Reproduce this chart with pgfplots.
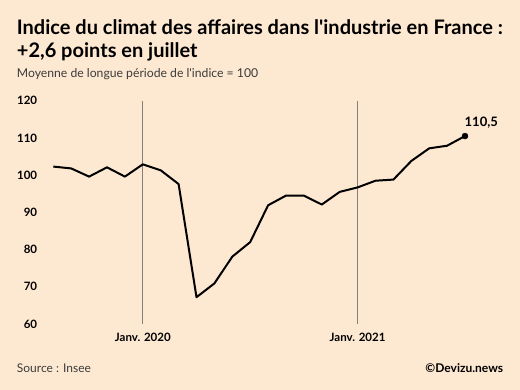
\documentclass[border=0pt]{standalone}
\usepackage{fontspec}
\setmainfont{Lato}
\usepackage{pgfplots}
\pgfplotsset{compat=1.18}
\definecolor{bg}{RGB}{253,232,209}
\definecolor{grayline}{RGB}{135,128,120}
\definecolor{subtxt}{RGB}{60,60,60}
\pgfplotstableread{
x y
0 102.3
1 101.8
2 99.6
3 102.1
4 99.6
5 102.9
6 101.3
7 97.6
8 67.2
9 70.9
10 78.1
11 82.0
12 91.9
13 94.5
14 94.5
15 92.1
16 95.5
17 96.7
18 98.5
19 98.8
20 103.8
21 107.2
22 107.9
23 110.5
}\data
\begin{document}
\begin{tikzpicture}[x=1pt,y=1pt]
\fill[bg] (0,0) rectangle (520,390);
\node[anchor=base west, inner sep=0] at (16.7,355.7) {\fontsize{20}{23}\selectfont\bfseries Indice du climat des affaires dans l\textquotesingle industrie en France :};
\node[anchor=base west, inner sep=0] at (16.7,332.3) {\fontsize{20}{23}\selectfont\bfseries +2,6 points en juillet};
\node[anchor=base west, inner sep=0, text=subtxt] at (16.7,312.7) {\fontsize{12.2}{14}\selectfont Moyenne de longue période de l\textquotesingle indice = 100};
\node[anchor=base west, inner sep=0, text=subtxt] at (16.7,17) {\fontsize{12}{14}\selectfont Source : Insee};
\node[anchor=base east, inner sep=0] at (503.3,17) {\fontsize{12}{14}\selectfont\bfseries ©Devizu.news};
\begin{axis}[
  at={(53.3pt,66pt)}, anchor=south west,
  scale only axis, width=411.7pt, height=223.3pt,
  xmin=0, xmax=23, ymin=60, ymax=120,
  axis line style={draw=none},
  tick style={draw=none},
  clip=false,
  ytick={60,70,...,120},
  xtick={5,17}, xticklabels={Janv. 2020, Janv. 2021},
  /pgf/number format/assume math mode=true,
  yticklabel style={anchor=east, inner sep=0pt, xshift=-16pt, font=\fontsize{11.5}{13}\selectfont\bfseries},
  xticklabel style={anchor=center, inner sep=0pt, yshift=-13pt, font=\fontsize{11.5}{13}\selectfont\bfseries},
]
\draw[grayline, line width=1pt] (axis cs:5,60) -- (axis cs:5,120);
\draw[grayline, line width=1pt] (axis cs:17,60) -- (axis cs:17,120);
\addplot[black, line width=2pt, line join=round, mark=none] table[x=x,y=y] {\data};
\addplot[black, only marks, mark=*, mark size=3pt] coordinates {(23,110.5)};
\node[anchor=base west, inner sep=0, xshift=-0.5pt, yshift=9.3pt, font=\fontsize{13}{15}\selectfont\bfseries] at (axis cs:23,110.5) {110,5};
\end{axis}
\end{tikzpicture}
\end{document}
